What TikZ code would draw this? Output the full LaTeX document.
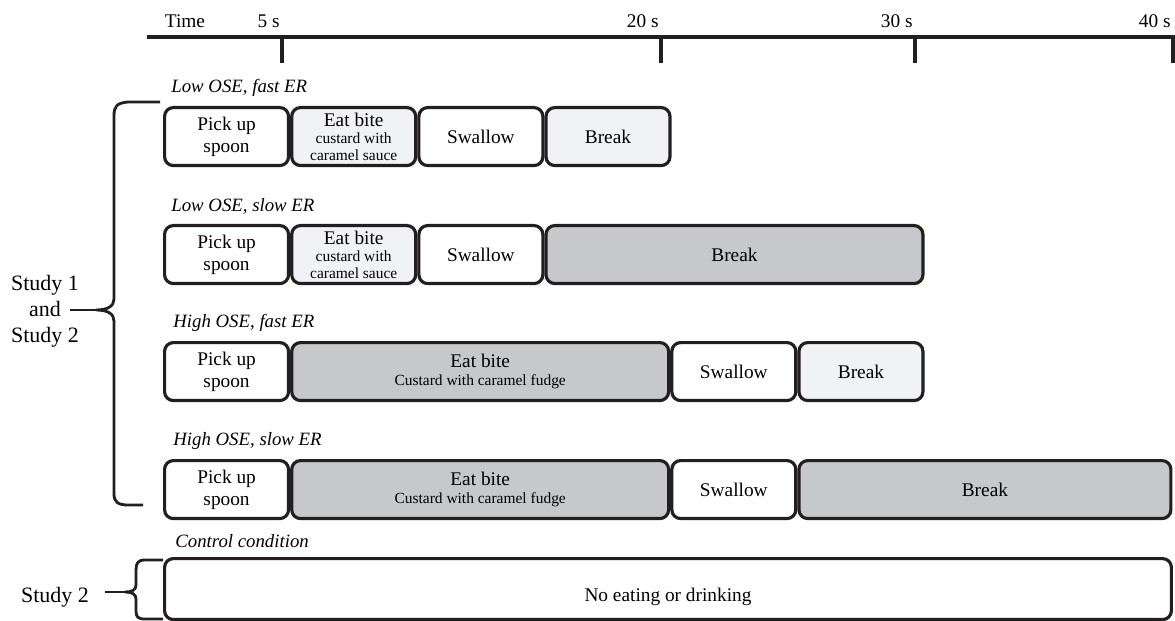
\documentclass[tikz,border=0pt]{standalone}
\usepackage{fontspec}
\setmainfont{Liberation Serif}
\usetikzlibrary{positioning}
\definecolor{ink}{HTML}{231F20}
\definecolor{darkfill}{HTML}{C7C8CA}
\definecolor{lightfill}{HTML}{F1F2F4}
\newcommand\smalltxt{\fontsize{8.8}{9.6}\selectfont}

\begin{document}
\begin{tikzpicture}[x=0.02cm, y=-0.02cm, node distance=0pt,
  stage/.style={draw=ink, line width=1.8pt, rounded corners=5pt, fill=white,
    minimum height=1.16cm, minimum width=2.48cm, inner sep=1pt, align=center,
    font=\fontsize{11}{12.5}\selectfont},
  bite/.style={font=\fontsize{11}{9.6}\selectfont},
  fudge/.style={font=\fontsize{11}{10.4}\selectfont},
  dark/.style={fill=darkfill},
  light/.style={fill=lightfill},
  wide/.style={minimum width=7.54cm},
  rowlabel/.style={inner sep=0pt, font=\fontsize{10.7}{13}\selectfont\itshape},
  sidelabel/.style={align=center, inner sep=0pt, font=\fontsize{12.5}{14.8}\selectfont},
  axislabel/.style={inner sep=0pt, font=\fontsize{11}{13}\selectfont},
  brace/.style={draw=ink, line width=1.6pt}]
\useasboundingbox (0,0) rectangle (1175,621);

% time axis
\draw[ink, line width=2.2pt] (147,37) -- (1173,37) -- (1173,63);
\node[axislabel, anchor=base] (time) at (185,28) {Time};
\foreach \x/\t in {282/5, 661/20, 915/30, 1173/40} {
  \draw[ink, line width=2.2pt] (\x,37) -- (\x,63);
  \node[axislabel, anchor=base east] (t\t) at (\x-2,28) {\t~s};
}

% Low OSE, fast ER
\node[stage, anchor=north west] (a1) at (163,106) {Pick up\\spoon};
\node[stage, bite, light, right=of a1] (a2) {Eat bite\\ \smalltxt custard with\\ \smalltxt caramel sauce};
\node[stage, right=of a2] (a3) {Swallow};
\node[stage, light, right=of a3] (a4) {Break};
\node[rowlabel, above right=0.18cm and 0.16cm of a1.north west] (la) {Low OSE, fast ER};

% Low OSE, slow ER
\node[stage, anchor=north west] (b1) at (163,224) {Pick up\\spoon};
\node[stage, bite, light, right=of b1] (b2) {Eat bite\\ \smalltxt custard with\\ \smalltxt caramel sauce};
\node[stage, right=of b2] (b3) {Swallow};
\node[stage, dark, wide, right=of b3] (b4) {Break};
\node[rowlabel, above right=0.18cm and 0.16cm of b1.north west] (lb) {Low OSE, slow ER};

% High OSE, fast ER
\node[stage, anchor=north west] (c1) at (163,341) {Pick up\\spoon};
\node[stage, fudge, dark, wide, right=of c1] (c2) {Eat bite\\ \smalltxt Custard with caramel fudge};
\node[stage, right=of c2] (c3) {Swallow};
\node[stage, light, right=of c3] (c4) {Break};
\node[rowlabel, above right=0.18cm and 0.2cm of c1.north west] (lc) {High OSE, fast ER};

% High OSE, slow ER
\node[stage, anchor=north west] (d1) at (163,459) {Pick up\\spoon};
\node[stage, fudge, dark, wide, right=of d1] (d2) {Eat bite\\ \smalltxt Custard with caramel fudge};
\node[stage, right=of d2] (d3) {Swallow};
\node[stage, dark, minimum width=7.44cm, right=of d3] (d4) {Break};
\node[rowlabel, above right=0.18cm and 0.2cm of d1.north west] (ld) {High OSE, slow ER};

% control
\node[stage, anchor=north west, minimum width=20.14cm, minimum height=1.22cm,
  text height=14pt, text depth=0pt] (ctl) at (163,557) {No eating or drinking};
\node[rowlabel, above right=0.18cm and 0.24cm of ctl.north west] (le) {Control condition};

% braces
\node[sidelabel] (both) at (45,311) {Study 1\\and\\Study 2};
\coordinate (bothtip) at (96,310);
\coordinate (bothend) at (70,310);
\draw[brace] (160,102) -- (128,102) .. controls (117,103) and (114,106) .. (114,116)
  -- (114,299) .. controls (114,306) and (108,310) .. (bothtip)
  .. controls (108,310) and (114,314) .. (114,321)
  -- (114,494) .. controls (114,502) and (118,505) .. (128,505) -- (143,505);
\draw[brace] (bothend) -- (bothtip);

\node[sidelabel] (only) at (55,597) {Study 2};
\coordinate (onlytip) at (125,592);
\coordinate (onlyend) at (105,592);
\draw[brace] (163,560) -- (145,560) .. controls (138,560) and (136,563) .. (136,570)
  -- (136,585) .. controls (136,590) and (132,592) .. (onlytip)
  .. controls (132,592) and (136,594) .. (136,599)
  -- (136,611) .. controls (136,617) and (138,619) .. (145,619) -- (163,619);
\draw[brace] (onlyend) -- (onlytip);
\end{tikzpicture}
\end{document}
